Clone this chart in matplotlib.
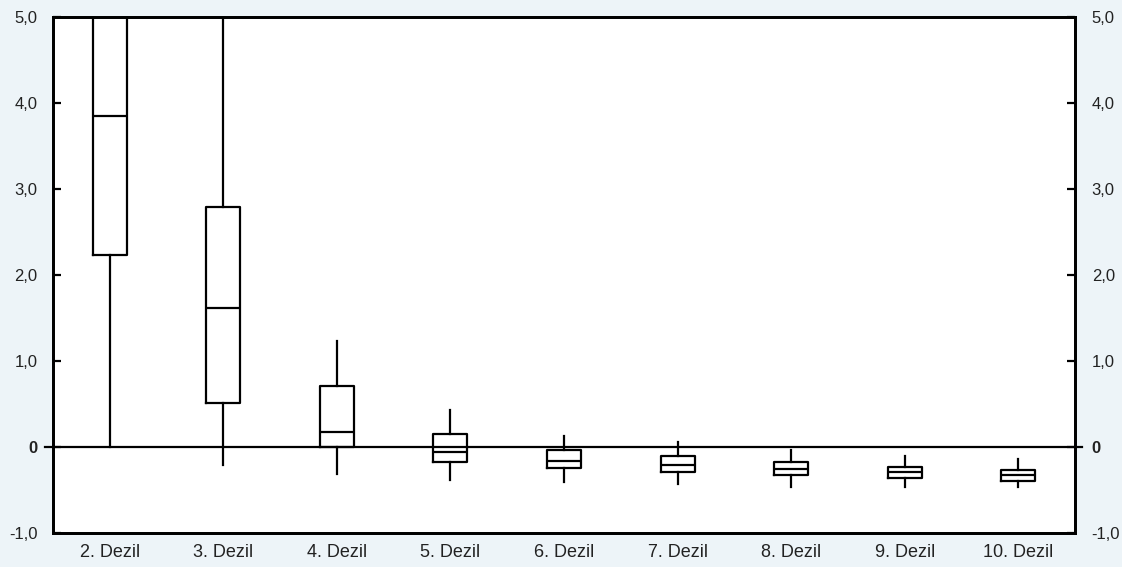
import matplotlib
matplotlib.use("Agg")
import matplotlib.pyplot as plt
from matplotlib.lines import Line2D

# box statistics per decile
categories = ["2. Dezil", "3. Dezil", "4. Dezil", "5. Dezil", "6. Dezil",
              "7. Dezil", "8. Dezil", "9. Dezil", "10. Dezil"]
whislo = [0.00, -0.21, -0.31, -0.38, -0.41, -0.43, -0.47, -0.47, -0.47]
q1 = [2.23, 0.51, 0.00, -0.17, -0.24, -0.29, -0.32, -0.36, -0.39]
med = [3.85, 1.62, 0.17, -0.06, -0.16, -0.21, -0.25, -0.29, -0.33]
q3 = [5.60, 2.79, 0.71, 0.155, -0.04, -0.10, -0.17, -0.23, -0.27]
whishi = [7.00, 6.00, 1.23, 0.43, 0.13, 0.06, -0.04, -0.10, -0.14]
yticks = [-1, 0, 1, 2, 3, 4, 5]
ytick_labels = ["-1,0", "0", "1,0", "2,0", "3,0", "4,0", "5,0"]

bg = "#edf4f8"
plt.rcParams["font.family"] = ["Liberation Sans", "DejaVu Sans"]

fig = plt.figure(figsize=(11.22, 5.67), dpi=100, facecolor=bg)
ax = fig.add_axes([53 / 1122, 34 / 567, 1022 / 1122, 516 / 567])
ax.set_facecolor("white")

stats = []
for i, name in enumerate(categories):
    stats.append(dict(label=name, whislo=whislo[i], q1=q1[i], med=med[i],
                      q3=q3[i], whishi=whishi[i], fliers=[]))

lw = 1.6
positions = [i + 0.5 for i in range(len(categories))]
ax.bxp(stats, positions=positions, widths=0.3, showcaps=False, showfliers=False,
       boxprops=dict(color="black", linewidth=lw),
       whiskerprops=dict(color="black", linewidth=lw),
       medianprops=dict(color="black", linewidth=lw))

# zero line, slightly sticking out of the frame
ax.add_line(Line2D([-8 / 1022, 1 + 7 / 1022], [0, 0], color="black", linewidth=lw,
                   transform=ax.get_yaxis_transform(), clip_on=False, zorder=5))

ax.set_xlim(0, len(categories))
ax.set_ylim(-1, 5)
ax.set_xticks(positions)
ax.set_xticklabels(categories, fontsize=13, color="#222222")
ax.tick_params(axis="x", length=0, pad=8)

ax.set_yticks(yticks)
ax.set_yticklabels(ytick_labels, fontsize=12, color="#222222")
ax.tick_params(axis="y", direction="in", length=6, width=lw, pad=11)
for lab in ax.get_yticklabels():
    if lab.get_text() == "0":
        lab.set_fontweight("bold")

ax2 = ax.twinx()
ax2.set_ylim(-1, 5)
ax2.set_yticks(yticks)
ax2.set_yticklabels(ytick_labels, fontsize=12, color="#222222")
ax2.tick_params(axis="y", direction="in", length=6, width=lw, pad=12)
for lab in ax2.get_yticklabels():
    if lab.get_text() == "0":
        lab.set_fontweight("bold")

for a in (ax, ax2):
    for s in a.spines.values():
        s.set_linewidth(2)

fig.savefig("out.png", dpi=100, facecolor=bg)
